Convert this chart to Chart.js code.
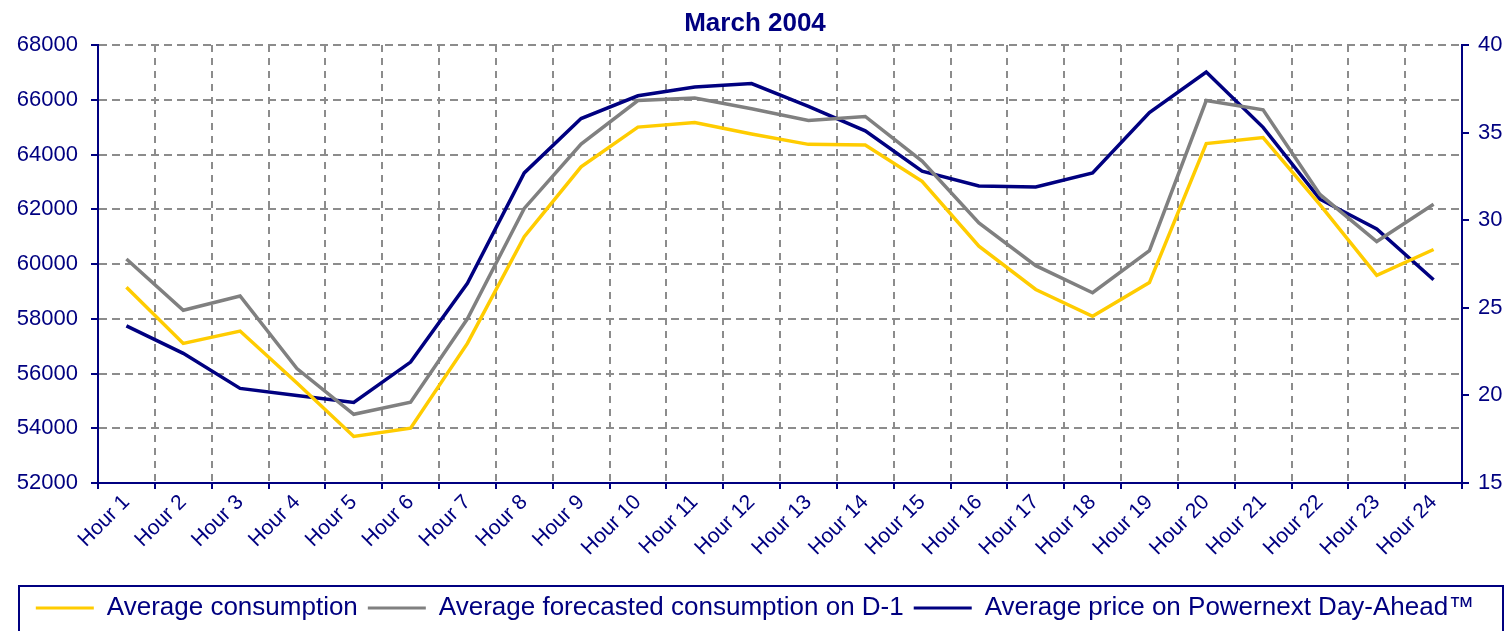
<!DOCTYPE html>
<html>
<head>
<meta charset="utf-8">
<title>March 2004</title>
<script src="https://cdn.jsdelivr.net/npm/chart.js@4/dist/chart.umd.min.js"></script>
<style>
  html, body { margin: 0; padding: 0; background: #fff; }
  canvas { display: block; }
</style>
</head>
<body>
<canvas id="grafico" width="1510" height="631"></canvas>
<script>
// Datos (marzo 2004, promedio por hora)
const horas = [
  "Hour 1", "Hour 2", "Hour 3", "Hour 4", "Hour 5", "Hour 6",
  "Hour 7", "Hour 8", "Hour 9", "Hour 10", "Hour 11", "Hour 12",
  "Hour 13", "Hour 14", "Hour 15", "Hour 16", "Hour 17", "Hour 18",
  "Hour 19", "Hour 20", "Hour 21", "Hour 22", "Hour 23", "Hour 24",
];

const consumo = [
  59150, 57100, 57550, 55650, 53700, 54000, 57100, 61000, 63550, 65000, 65170, 64750,
  64370, 64350, 63020, 60650, 59070, 58090, 59320, 64400, 64620, 62170, 59590, 60530,
];

const consumoPrevisto = [
  60180, 58310, 58830, 56180, 54510, 54950, 58000, 62030, 64380, 65970, 66060, 65670,
  65240, 65390, 63760, 61500, 59940, 58950, 60490, 65970, 65630, 62540, 60820, 62180,
];

const precio = [
  23.97, 22.4, 20.4, 20.0, 19.6, 21.9, 26.4, 32.7, 35.8, 37.1, 37.6, 37.8,
  36.5, 35.1, 32.8, 31.95, 31.9, 32.7, 36.15, 38.46, 35.3, 31.2, 29.5, 26.6,
];

const navy = "#000080";
const fuente = "'Liberation Sans', Arial, sans-serif";

// Marco alrededor de la leyenda
const marcoLeyenda = {
  id: "marcoLeyenda",
  afterDraw(chart) {
    const ctx = chart.ctx;
    ctx.save();
    ctx.strokeStyle = navy;
    ctx.lineWidth = 2;
    ctx.strokeRect(19, 586, 1484, 60);
    ctx.restore();
  },
};

const configLinea = {
  type: "line",
  data: {
    labels: horas,
    datasets: [
      {
        label: "Average consumption",
        data: consumo,
        borderColor: "#ffcc00",
        backgroundColor: "#ffcc00",
        borderWidth: 3.5,
        pointRadius: 0,
        yAxisID: "y",
      },
      {
        label: "Average forecasted consumption on D-1",
        data: consumoPrevisto,
        borderColor: "#808080",
        backgroundColor: "#808080",
        borderWidth: 3.5,
        pointRadius: 0,
        yAxisID: "y",
      },
      {
        label: "Average price on Powernext Day-Ahead\u2122",
        data: precio,
        borderColor: navy,
        backgroundColor: navy,
        borderWidth: 3.5,
        pointRadius: 0,
        yAxisID: "y1",
      },
    ],
  },
  options: {
    responsive: false,
    devicePixelRatio: 1,
    animation: false,
    events: [],
    layout: { padding: 0 },
    scales: {
      x: {
        offset: true,
        grid: {
          offset: true,
          color: "#8c8c8c",
          lineWidth: 2,
          tickColor: navy,
          tickLength: 6,
          tickBorderDash: [],
        },
        border: { color: navy, width: 2, dash: [7, 6] },
        ticks: {
          autoSkip: false,
          minRotation: 45,
          maxRotation: 45,
          color: navy,
          padding: 1,
          font: { family: fuente, size: 21 },
        },
        afterFit(scale) {
          scale.height = 102;
        },
      },
      y: {
        position: "left",
        min: 52000,
        max: 68000,
        grid: {
          color: "#8c8c8c",
          lineWidth: 2,
          tickColor: navy,
          tickLength: 7,
          tickBorderDash: [],
        },
        border: { color: navy, width: 2, dash: [8, 5] },
        ticks: {
          stepSize: 2000,
          color: navy,
          padding: 13,
          font: { family: fuente, size: 22 },
          callback: (v) => String(v),
        },
        afterFit(scale) {
          scale.width = 98;
        },
      },
      y1: {
        position: "right",
        min: 15,
        max: 40,
        grid: {
          drawOnChartArea: false,
          tickColor: navy,
          tickLength: 7,
          lineWidth: 2,
        },
        border: { color: navy, width: 2 },
        ticks: {
          stepSize: 5,
          color: navy,
          padding: 9,
          font: { family: fuente, size: 22 },
        },
        afterFit(scale) {
          scale.width = 48;
        },
      },
    },
    plugins: {
      title: {
        display: true,
        text: "March 2004",
        color: navy,
        font: { family: fuente, size: 26, weight: "bold" },
        padding: { top: 8, bottom: 5.8 },
      },
      legend: {
        position: "bottom",
        labels: {
          color: navy,
          boxWidth: 58,
          boxHeight: 3,
          padding: 10,
          font: { family: fuente, size: 26 },
          generateLabels(chart) {
            return Chart.defaults.plugins.legend.labels
              .generateLabels(chart)
              .map((l) => Object.assign(l, { lineWidth: 0 }));
          },
        },
      },
      tooltip: { enabled: false },
    },
  },
  plugins: [marcoLeyenda],
};

new Chart(document.getElementById("grafico"), configLinea);
</script>
</body>
</html>
